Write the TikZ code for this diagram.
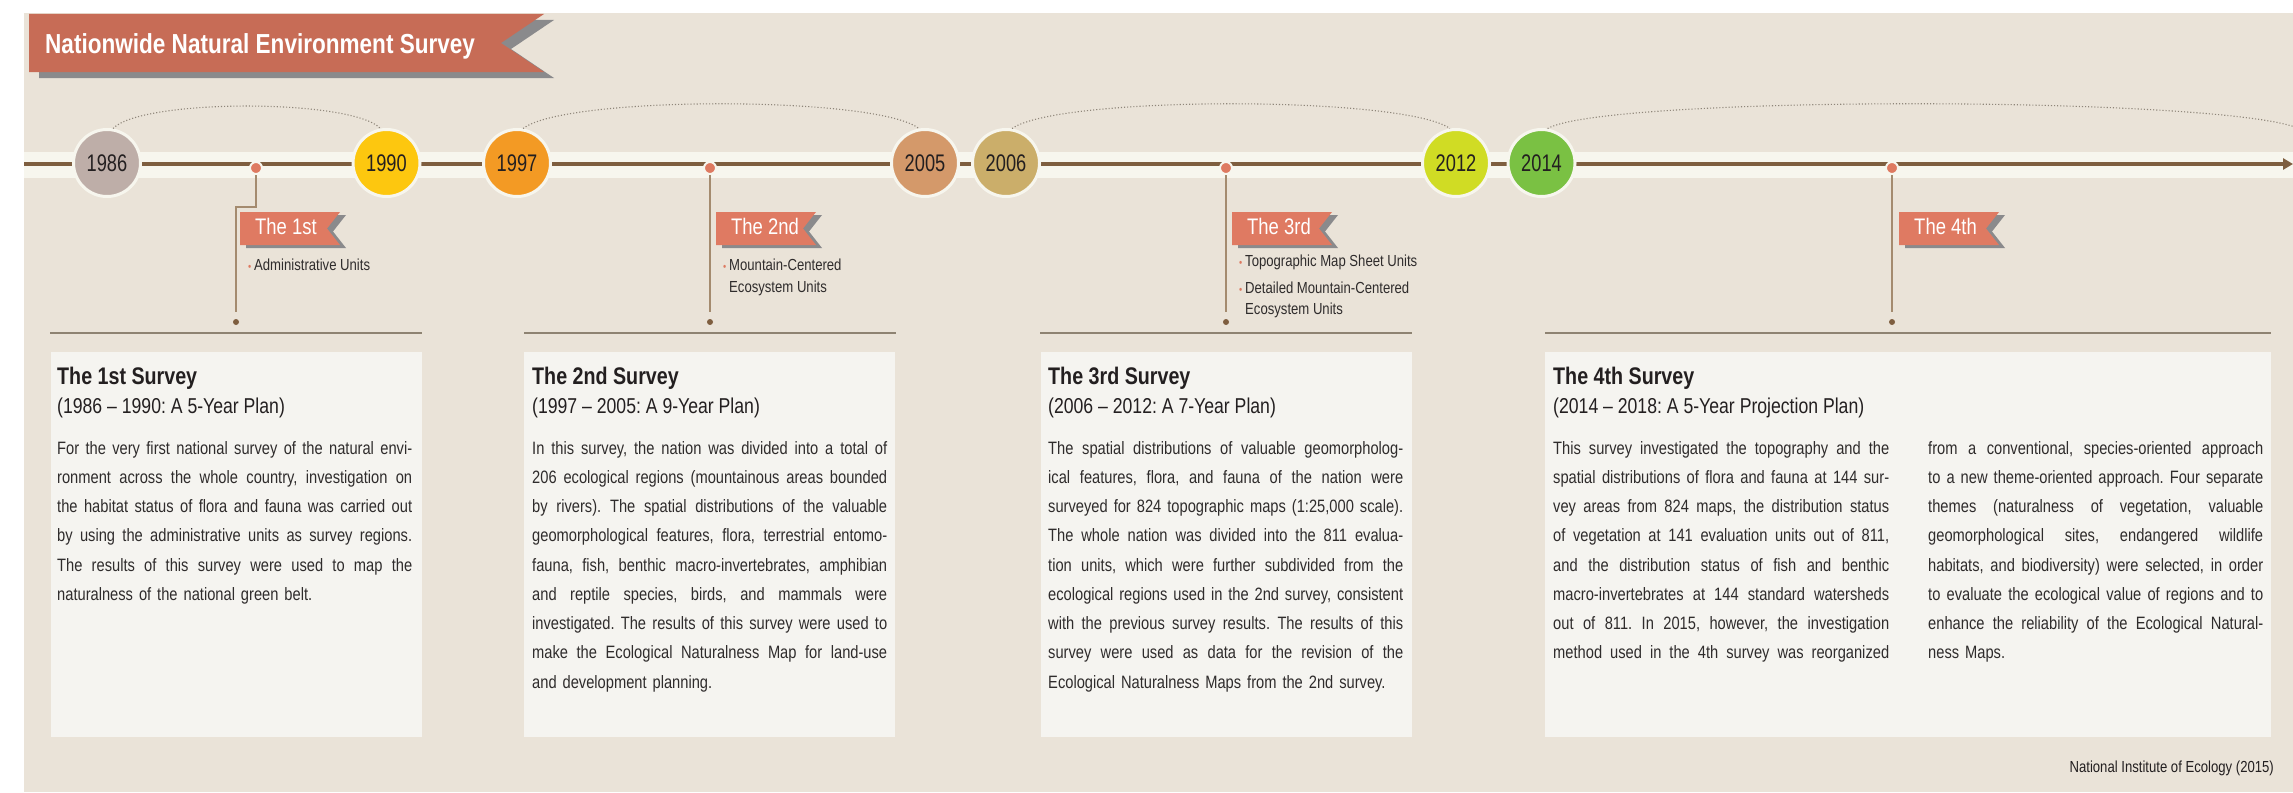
\documentclass[tikz,border=0pt]{standalone}
\usepackage{fontspec}
\setmainfont{Liberation Sans}[FakeStretch=0.82]
\newfontfamily\yearfont{Liberation Sans}[FakeStretch=0.76]
\frenchspacing
\usetikzlibrary{arrows.meta}
\definecolor{bgc}{HTML}{EAE3D8}
\definecolor{bandc}{HTML}{F7F6EE}
\definecolor{boxc}{HTML}{F5F4F0}
\definecolor{brownc}{HTML}{7E5E3F}
\definecolor{leaderc}{HTML}{A48B6F}
\definecolor{sepc}{HTML}{8E8372}
\definecolor{redc}{HTML}{DE7A61}
\definecolor{titlec}{HTML}{C76C56}
\definecolor{flagc}{HTML}{DF7A62}
\definecolor{shadowc}{HTML}{8A8A8C}
\definecolor{darkc}{HTML}{231F20}
\definecolor{bodyc}{HTML}{2F2C2C}
\definecolor{arcc}{HTML}{8F867A}
\definecolor{cA}{HTML}{BEAEA8}
\definecolor{cB}{HTML}{FDC70F}
\definecolor{cC}{HTML}{F39A24}
\definecolor{cD}{HTML}{D4996A}
\definecolor{cE}{HTML}{CBAE6A}
\definecolor{cF}{HTML}{D0DC24}
\definecolor{cG}{HTML}{7AC143}
\newcommand\fs[2]{\fontsize{#1}{#2}\selectfont}
\newcommand\jl[1]{\makebox[\linewidth][s]{\spaceskip=4.1pt plus 12pt minus 1.4pt\relax\strut #1}}
\newcommand\lastl[1]{\makebox[\linewidth][l]{\strut #1}}
\newcommand\bdot{\makebox[6pt][l]{\textcolor{redc}{\fs{11}{11}•}}}
\newcommand\ribbon[4]{%
  \begin{scope}[shift={(6,3)}]
    \fill[shadowc] (#2,#3) -- ++(100,0) -- ++(-13,16.5) -- ++(13,16.5) -- ++(-100,0) -- cycle;
  \end{scope}
  \fill[flagc] (#2,#3) -- ++(100,0) -- ++(-13,16.5) -- ++(13,16.5) -- ++(-100,0) -- cycle;
  \node[flagtext] (#1) at ([shift={(15,22.5)}]#2,#3) {#4};
}
\tikzset{
  yearc/.style={circle, minimum size=67, inner sep=0, draw=bandc, line width=3, font=\yearfont\fs{24}{24}, text=darkc},
  reddot/.style={circle, minimum size=12, inner sep=0, fill=redc, draw=bandc, line width=2},
  enddot/.style={circle, minimum size=6, inner sep=0, fill=brownc},
  leader/.style={draw=leaderc, line width=1.3},
  arcs/.style={draw=arcc, line width=1.1, dash pattern=on 1.1pt off 2pt},
  sepline/.style={draw=sepc, line width=2},
  flagtext/.style={anchor=base west, inner sep=0, text=white, font=\fs{22.5}{22.5}},
  bul/.style={anchor=base west, inner sep=0, text=bodyc, font=\fs{16}{16}},
  boxtitle/.style={anchor=base west, inner sep=0, text=darkc, font=\fs{24}{24}\bfseries},
  boxsub/.style={anchor=base west, inner sep=0, text=darkc, font=\fs{21.5}{21.5}},
  bodytext/.style={anchor=north west, inner sep=0, text width=#1, align=left, text=bodyc, font=\fs{17.9}{29.25}},
}
\begin{document}
\begin{tikzpicture}[x=1pt,y=-1pt]
\useasboundingbox (0,0) rectangle (2293,792);
\fill[white] (0,0) rectangle (2293,792);
\fill[bgc] (24,13) rectangle (2293,792);

% title banner
\begin{scope}[shift={(10,6)}]
  \fill[shadowc] (29,14) -- (544,14) -- (501,43) -- (544,72) -- (29,72) -- cycle;
\end{scope}
\fill[titlec] (29,14) -- (544,14) -- (501,43) -- (544,72) -- (29,72) -- cycle;
\node[anchor=base west, inner sep=0, text=white, font=\fs{27.5}{27.5}\bfseries] (title) at (45,53) {Nationwide Natural Environment Survey};

% timeline band
\fill[bandc] (24,152) rectangle (2293,178);
\coordinate (tlstart) at (24,164);
\coordinate (tlend) at (2293,164);
\draw[brownc, line width=3.3, -{Triangle[length=10pt,width=11pt]}] (tlstart) -- (tlend);

% year circles
\node[yearc, fill=cA] (y1986) at (107,163) {1986};
\node[yearc, fill=cB] (y1990) at (386.5,163) {1990};
\node[yearc, fill=cC] (y1997) at (517,163) {1997};
\node[yearc, fill=cD] (y2005) at (925,163) {2005};
\node[yearc, fill=cE] (y2006) at (1006,163) {2006};
\node[yearc, fill=cF] (y2012) at (1456,163) {2012};
\node[yearc, fill=cG] (y2014) at (1541.5,163) {2014};
\coordinate (arcend) at (2302,130);

% dotted arcs
\draw[arcs] (y1986.80) .. controls +(28,-30) and +(-28,-30) .. (y1990.100);
\draw[arcs] (y1997.80) .. controls +(42,-33) and +(-42,-33) .. (y2005.100);
\draw[arcs] (y2006.80) .. controls +(46,-33) and +(-46,-33) .. (y2012.100);
\draw[arcs] (y2014.80) .. controls +(60,-34) and +(-60,-34) .. (arcend);

% survey markers
\node[reddot] (d1) at (256,168) {};
\node[reddot] (d2) at (710,168) {};
\node[reddot] (d3) at (1226,168) {};
\node[reddot] (d4) at (1892,168) {};
\node[enddot] (e1) at (236,322) {};
\node[enddot] (e2) at (710,322) {};
\node[enddot] (e3) at (1226,322) {};
\node[enddot] (e4) at (1892,322) {};
\coordinate (k1) at (236,207);
\draw[leader, shorten >=7pt] (d1) |- (k1) -- (e1);
\draw[leader, shorten >=7pt] (d2) -- (e2);
\draw[leader, shorten >=7pt] (d3) -- (e3);
\draw[leader, shorten >=7pt] (d4) -- (e4);

% ribbons
\ribbon{f1}{240}{212}{The 1st}
\ribbon{f2}{716}{212}{The 2nd}
\ribbon{f3}{1232}{212}{The 3rd}
\ribbon{f4}{1899}{212}{The 4th}

% bullet items
\node[bul] (b1) at (248,270) {\bdot Administrative Units};
\node[bul] (b2) at (723,270) {\bdot Mountain-Centered};
\node[bul] (b2b) at (729,292.5) {Ecosystem Units};
\node[bul] (b3) at (1239,266) {\bdot Topographic Map Sheet Units};
\node[bul] (b3b) at (1239,293) {\bdot Detailed Mountain-Centered};
\node[bul] (b3c) at (1245,314) {Ecosystem Units};

% separators
\draw[sepline] (50,333) -- (422,333);
\draw[sepline] (524,333) -- (896,333);
\draw[sepline] (1040,333) -- (1412,333);
\draw[sepline] (1545,333) -- (2271,333);

% boxes
\fill[boxc] (51,352) rectangle (422,737);
\fill[boxc] (524,352) rectangle (895,737);
\fill[boxc] (1041,352) rectangle (1412,737);
\fill[boxc] (1545,352) rectangle (2271,737);

% box 1
\node[boxtitle] (s1) at (57,384) {The 1st Survey};
\node[boxsub] (s1b) at (57,413) {(1986 -- 1990: A 5-Year Plan)};
\node[bodytext=355pt] (p1) at (57,433.5) {%
\jl{For the very first national survey of the natural envi-}\\
\jl{ronment across the whole country, investigation on}\\
\jl{the habitat status of flora and fauna was carried out}\\
\jl{by using the administrative units as survey regions.}\\
\jl{The results of this survey were used to map the}\\
\lastl{naturalness of the national green belt.}};

% box 2
\node[boxtitle] (s2) at (532,384) {The 2nd Survey};
\node[boxsub] (s2b) at (532,413) {(1997 -- 2005: A 9-Year Plan)};
\node[bodytext=355pt] (p2) at (532,433.5) {%
\jl{In this survey, the nation was divided into a total of}\\
\jl{206 ecological regions (mountainous areas bounded}\\
\jl{by rivers). The spatial distributions of the valuable}\\
\jl{geomorphological features, flora, terrestrial entomo-}\\
\jl{fauna, fish, benthic macro-invertebrates, amphibian}\\
\jl{and reptile species, birds, and mammals were}\\
\jl{investigated. The results of this survey were used to}\\
\jl{make the Ecological Naturalness Map for land-use}\\
\lastl{and development planning.}};

% box 3
\node[boxtitle] (s3) at (1048,384) {The 3rd Survey};
\node[boxsub] (s3b) at (1048,413) {(2006 -- 2012: A 7-Year Plan)};
\node[bodytext=355pt] (p3) at (1048,433.5) {%
\jl{The spatial distributions of valuable geomorpholog-}\\
\jl{ical features, flora, and fauna of the nation were}\\
\jl{surveyed for 824 topographic maps (1:25,000 scale).}\\
\jl{The whole nation was divided into the 811 evalua-}\\
\jl{tion units, which were further subdivided from the}\\
\jl{ecological regions used in the 2nd survey, consistent}\\
\jl{with the previous survey results. The results of this}\\
\jl{survey were used as data for the revision of the}\\
\lastl{Ecological Naturalness Maps from the 2nd survey.}};

% box 4
\node[boxtitle] (s4) at (1553,384) {The 4th Survey};
\node[boxsub] (s4b) at (1553,413) {(2014 -- 2018: A 5-Year Projection Plan)};
\node[bodytext=336pt] (p4a) at (1553,433.5) {%
\jl{This survey investigated the topography and the}\\
\jl{spatial distributions of flora and fauna at 144 sur-}\\
\jl{vey areas from 824 maps, the distribution status}\\
\jl{of vegetation at 141 evaluation units out of 811,}\\
\jl{and the distribution status of fish and benthic}\\
\jl{macro-invertebrates at 144 standard watersheds}\\
\jl{out of 811. In 2015, however, the investigation}\\
\jl{method used in the 4th survey was reorganized}};
\node[bodytext=335pt] (p4b) at (1928,433.5) {%
\jl{from a conventional, species-oriented approach}\\
\jl{to a new theme-oriented approach. Four separate}\\
\jl{themes (naturalness of vegetation, valuable}\\
\jl{geomorphological sites, endangered wildlife}\\
\jl{habitats, and biodiversity) were selected, in order}\\
\jl{to evaluate the ecological value of regions and to}\\
\jl{enhance the reliability of the Ecological Natural-}\\
\lastl{ness Maps.}};

% footer
\node[anchor=base east, inner sep=0, text=darkc, font=\fs{16}{16}] (src) at (2274,772) {National Institute of Ecology (2015)};
\end{tikzpicture}
\end{document}
